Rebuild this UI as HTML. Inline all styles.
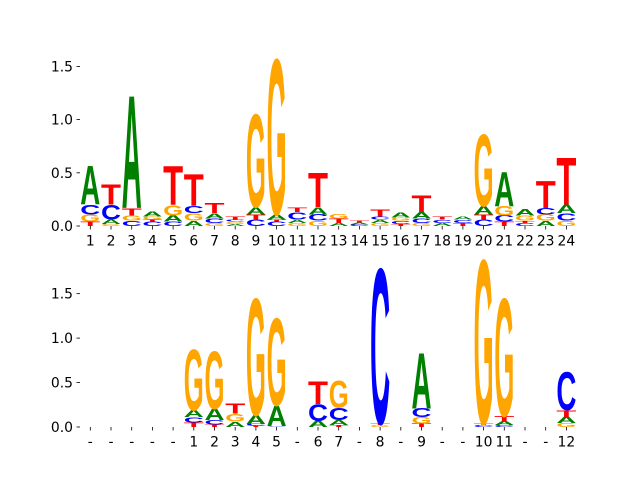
<!DOCTYPE html>
<html><head><meta charset="utf-8"><style>
body{margin:0;background:#fff}
svg text.tk{font-family:"DejaVu Sans","Liberation Sans",sans-serif;font-size:13.9px;fill:#000}
</style></head><body>
<svg id="chart" width="640" height="480" viewBox="0 0 640 480" xmlns="http://www.w3.org/2000/svg"></svg>
<script>
// Top logo: stacks bottom->top, [letter, height]
const topLabels = ["1","2","3","4","5","6","7","8","9","10","11","12","13","14","15","16","17","18","19","20","21","22","23","24"];
const topStacks = [
 [["T",0.04],["G",0.07],["C",0.09],["A",0.37]],
 [["G",0.02],["A",0.04],["C",0.14],["T",0.19]],
 [["C",0.05],["G",0.05],["T",0.07],["A",1.08]],
 [["C",0.04],["T",0.02],["G",0.03],["A",0.05]],
 [["C",0.04],["A",0.06],["G",0.10],["T",0.37]],
 [["A",0.05],["G",0.07],["C",0.07],["T",0.30]],
 [["G",0.03],["C",0.04],["A",0.05],["T",0.10]],
 [["A",0.02],["G",0.02],["C",0.02],["T",0.03]],
 [["C",0.06],["T",0.05],["A",0.07],["G",0.89]],
 [["C",0.04],["T",0.02],["A",0.05],["G",1.49]],
 [["G",0.03],["A",0.03],["C",0.07],["T",0.04]],
 [["G",0.05],["C",0.06],["A",0.07],["T",0.33]],
 [["A",0.03],["T",0.04],["G",0.04]],
 [["C",0.015],["A",0.02],["T",0.02]],
 [["G",0.03],["A",0.03],["C",0.03],["T",0.07]],
 [["T",0.02],["C",0.03],["G",0.03],["A",0.05]],
 [["G",0.03],["C",0.04],["A",0.06],["T",0.16]],
 [["A",0.03],["C",0.03],["T",0.03]],
 [["T",0.03],["C",0.03],["A",0.03]],
 [["C",0.06],["T",0.05],["A",0.08],["G",0.69]],
 [["T",0.04],["C",0.06],["G",0.09],["A",0.33]],
 [["C",0.03],["T",0.02],["G",0.05],["A",0.06]],
 [["A",0.05],["G",0.06],["C",0.06],["T",0.26]],
 [["G",0.05],["C",0.07],["A",0.08],["T",0.45]]
];
const botLabels = ["-","-","-","-","-","1","2","3","4","5","-","6","7","-","8","-","9","-","-","10","11","-","-","12"];
const botStacks = [
 [],[],[],[],[],
 [["T",0.05],["C",0.06],["A",0.08],["G",0.70]],
 [["T",0.03],["C",0.05],["A",0.13],["G",0.66]],
 [["A",0.06],["G",0.09],["T",0.12]],
 [["T",0.015],["C",0.02],["A",0.10],["G",1.34]],
 [["C",0.01],["A",0.23],["G",1.00]],
 [],
 [["A",0.07],["C",0.19],["T",0.26]],
 [["T",0.02],["A",0.06],["C",0.14],["G",0.31]],
 [],
 [["G",0.02],["T",0.02],["C",1.78]],
 [],
 [["T",0.04],["G",0.07],["C",0.10],["A",0.64]],
 [],[],
 [["C",0.02],["T",0.02],["G",1.88]],
 [["C",0.02],["A",0.045],["T",0.06],["G",1.35]],
 [],[],
 [["G",0.045],["A",0.07],["T",0.075],["C",0.44]]
];
const topTicks = [0,0.5,1,1.5];
const botTicks = [0,0.5,1,1.5];
const colors = {A:"#008000",C:"#0000ff",G:"#ffa500",T:"#ff0000"};
const NS="http://www.w3.org/2000/svg";
const svg=document.getElementById("chart");
function xPos(i){return 90.3+i*20.7;}
function panel(name,stacks,labels,ticks,y0,ppu){
  const g=document.createElementNS(NS,"g");
  
  
  svg.appendChild(g);
  const yS=v=>y0-v*ppu;
  ticks.forEach(t=>{
    const l=document.createElementNS(NS,"line");
    
    
    l.setAttribute("x1",76.5);l.setAttribute("x2",80);l.setAttribute("y1",yS(t));l.setAttribute("y2",yS(t));
    l.setAttribute("stroke","#000");l.setAttribute("stroke-width","0.8");g.appendChild(l);
    const tx=document.createElementNS(NS,"text");
    
    
    tx.setAttribute("class","tk");tx.setAttribute("x",73);tx.setAttribute("y",yS(t)+5);tx.setAttribute("text-anchor","end");
    tx.textContent=t.toFixed(1);g.appendChild(tx);
  });
  labels.forEach((lab,i)=>{
    const x=xPos(i);
    const l=document.createElementNS(NS,"line");
    
    
    l.setAttribute("x1",x);l.setAttribute("x2",x);l.setAttribute("y1",y0);l.setAttribute("y2",y0+3.5);
    l.setAttribute("stroke","#000");l.setAttribute("stroke-width","0.8");g.appendChild(l);
    const tx=document.createElementNS(NS,"text");
    
    
    tx.setAttribute("class","tk");tx.setAttribute("x",x);tx.setAttribute("y",y0+19.5);tx.setAttribute("text-anchor","middle");
    tx.textContent=lab;g.appendChild(tx);
  });
  stacks.forEach((st,i)=>{
    let cum=0;const x=xPos(i);
    st.forEach(([L,h])=>{
      const yb=yS(cum);cum+=h;
      const hp=h*ppu;if(hp<=0)return;
      const t=document.createElementNS(NS,"text");
      
      
      t.setAttribute("x",-10);t.setAttribute("y",0);
      t.setAttribute("font-family","Liberation Sans, DejaVu Sans, sans-serif");
      t.setAttribute("font-weight","bold");t.setAttribute("font-size","100");
      t.setAttribute("textLength","20");t.setAttribute("lengthAdjust","spacingAndGlyphs");
      t.setAttribute("fill",colors[L]);
      t.setAttribute("transform",`translate(${x},${yb}) scale(1,${hp/71})`);
      t.textContent=L;g.appendChild(t);
    });
  });
}
panel("top-logo",topStacks,topLabels,topTicks,226,106.4);
panel("bottom-logo",botStacks,botLabels,botTicks,427,88.9);
</script>
</body></html>
